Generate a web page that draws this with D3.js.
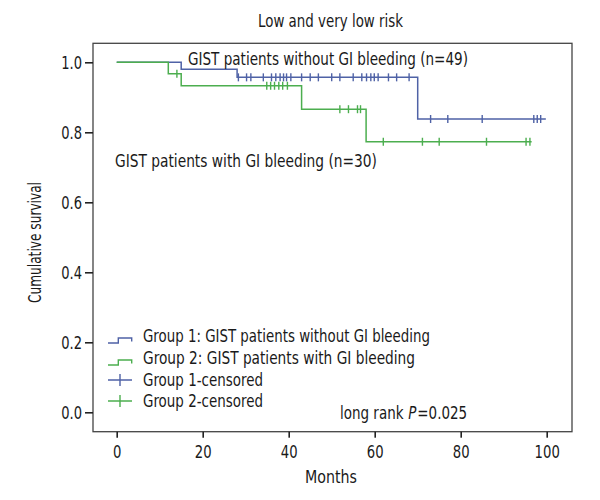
<!DOCTYPE html>
<html><head><meta charset="utf-8">
<script src="https://cdn.jsdelivr.net/npm/d3@7"></script>
<style>
body{margin:0;background:#fff;}
text{font-family:"DejaVu Sans Condensed","Liberation Sans Narrow",sans-serif;fill:#1a1a1a;}
</style></head>
<body><svg id="c" width="600" height="500"></svg>
<script>
const title = "Low and very low risk";
const xTicks = [0,20,40,60,80,100];
const yTicks = [0.0,0.2,0.4,0.6,0.8,1.0];
// Group 1: without GI bleeding (n=49)
const g1EventTimes = [0,15,28,70];
const g1Survival   = [1.0,0.98,0.957,0.838];
const g1EndTime = 99.8;
const g1Censored = [28.3,30.2,31.2,34.1,36.0,37.0,38.0,38.8,39.5,40.5,43.0,45.0,46.9,50.0,51.9,55.0,57.0,58.1,59.1,59.9,60.8,63.2,65.1,68.0,73.0,77.0,85.0,97.0,97.8,98.6];
// Group 2: with GI bleeding (n=30)
const g2EventTimes = [0,12,15,43,58];
const g2Survival   = [1.0,0.967,0.933,0.866,0.773];
const g2EndTime = 96.5;
const g2Censored = [14.0,34.9,35.8,36.7,37.7,38.6,39.7,51.9,53.9,56.0,56.7,62.0,71.1,75.0,86.0,95.2,96.1];
const legendLabels = ["Group 1: GIST patients without GI bleeding","Group 2: GIST patients with GI bleeding","Group 1-censored","Group 2-censored"];
const pParts = ["long rank", "P", "=0.025"];

const blue = "#4f62a6", green = "#4cae4f", frameCol = "#444";
const FS = 18;
const svg = d3.select("#c");
const x = d3.scaleLinear().domain([0,100]).range([116.7,546.7]);
const y = d3.scaleLinear().domain([0,1]).range([412.3,62.3]);
const L=93, R=572, T=43.3, B=431.7;

function fit(sel, w){ return sel.attr("textLength",w).attr("lengthAdjust","spacingAndGlyphs"); }

svg.append("rect").attr("x",L).attr("y",T).attr("width",R-L).attr("height",B-T)
  .attr("fill","none").attr("stroke",frameCol).attr("stroke-width",1.3);

const xAxis = svg.append("g").attr("transform",`translate(0,${B})`)
  .call(d3.axisBottom(x).tickValues(xTicks).tickSize(6).tickPadding(0).tickFormat(d3.format("d")));
const yAxis = svg.append("g").attr("transform",`translate(${L},0)`)
  .call(d3.axisLeft(y).tickValues(yTicks).tickSize(8).tickPadding(3).tickFormat(d3.format(".1f")));
[xAxis,yAxis].forEach(a=>{
  a.select(".domain").remove();
  a.selectAll("line").attr("stroke","#222").attr("stroke-width",1.6);
  a.selectAll("text").attr("font-size",FS).attr("fill","#1a1a1a")
    .style("font-family",'"DejaVu Sans Condensed","Liberation Sans Narrow",sans-serif')
    .each(function(){ const t=d3.select(this); const s=t.text();
      let w=0; for(const ch of s) w += (ch==="."?4:8.4); fit(t,w); });
});
xAxis.selectAll("text").attr("dy",null).attr("y",26.3);
yAxis.selectAll("text").attr("dy","0.36em");

function survAt(times, surv, t){
  let s = surv[0];
  for(let i=0;i<times.length;i++){ if(times[i]<=t) s=surv[i]; }
  return s;
}
function drawGroup(times, surv, endT, cens, col){
  const pts = times.map((t,i)=>[t,surv[i]]);
  pts.push([endT, surv[surv.length-1]]);
  const line = d3.line().x(d=>x(d[0])).y(d=>y(d[1])).curve(d3.curveStepAfter);
  svg.append("path").attr("d",line(pts)).attr("fill","none").attr("stroke",col).attr("stroke-width",1.5);
  svg.append("g").selectAll("line").data(cens).join("line")
    .attr("x1",d=>x(d)).attr("x2",d=>x(d))
    .attr("y1",d=>y(survAt(times,surv,d))-4).attr("y2",d=>y(survAt(times,surv,d))+4)
    .attr("stroke",col).attr("stroke-width",1.4);
}
drawGroup(g1EventTimes,g1Survival,g1EndTime,g1Censored,blue);
drawGroup(g2EventTimes,g2Survival,g2EndTime,g2Censored,green);

fit(svg.append("text").attr("x",330.5).attr("y",27).attr("text-anchor","middle").attr("font-size",FS).text(title),145);
fit(svg.append("text").attr("x",188).attr("y",65).attr("font-size",FS).text("GIST patients without GI bleeding (n=49)"),280);
fit(svg.append("text").attr("x",115).attr("y",167).attr("font-size",FS).text("GIST patients with GI bleeding (n=30)"),262);

// "long rank P=0.025": three runs laid out by natural width, then scaled horizontally as a group
const pg = svg.append("g");
let cx = 0;
pParts.forEach((s,i)=>{
  const t = pg.append("text").attr("x",cx).attr("y",0).attr("font-size",FS).text(s);
  if(i===1) t.attr("font-style","italic");
  cx += t.node().getComputedTextLength() + (i===0 ? FS*0.32 : 1);
});
pg.attr("transform",`translate(340,419) scale(${128/cx},1)`);

fit(svg.append("text").attr("x",331).attr("y",483).attr("text-anchor","middle").attr("font-size",FS).text("Months"),52);
fit(svg.append("text").attr("transform","translate(41,242.5) rotate(-90)").attr("text-anchor","middle").attr("font-size",FS).text("Cumulative survival"),121);

// legend
const legBase = [342,364,386,407];
const legW = [287,272,120,120];
const legCols = [blue,green,blue,green];
legendLabels.forEach((lab,i)=>{
  const b = legBase[i], col = legCols[i];
  if(i<2){
    svg.append("path").attr("d",`M108,${b+1}H118.3V${b-4}H131.7V${b-0.5}`)
      .attr("fill","none").attr("stroke",col).attr("stroke-width",1.4);
  } else {
    svg.append("path").attr("d",`M108,${b-6}H132M120,${b-12}V${b}`)
      .attr("fill","none").attr("stroke",col).attr("stroke-width",1.4);
  }
  fit(svg.append("text").attr("x",143).attr("y",b).attr("font-size",FS).text(lab),legW[i]);
});
</script></body></html>
